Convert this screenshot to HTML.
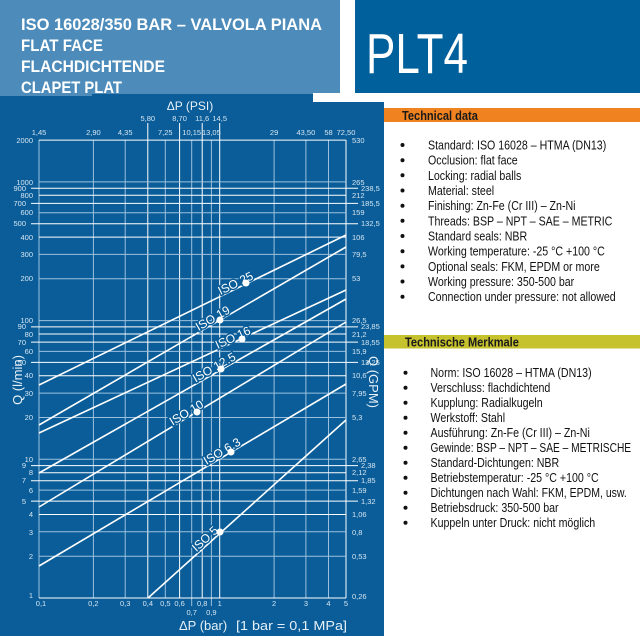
<!DOCTYPE html>
<html><head><meta charset="utf-8"><style>
html,body{margin:0;padding:0;background:#fff;width:640px;height:640px;overflow:hidden}
svg{display:block}
</style></head><body>
<svg width="640" height="640" viewBox="0 0 640 640" xmlns="http://www.w3.org/2000/svg" font-family="Liberation Sans, sans-serif">
<rect width="640" height="640" fill="#fff"/>
<rect x="0" y="0" width="340" height="96" fill="#4d8cba"/>
<rect x="355" y="0" width="285" height="93" fill="#00609c"/>
<g fill="#fff" font-weight="bold" font-size="17">
<text x="21" y="30" textLength="301" lengthAdjust="spacingAndGlyphs">ISO 16028/350 BAR – VALVOLA PIANA</text>
<text x="21" y="51" textLength="82" lengthAdjust="spacingAndGlyphs">FLAT FACE</text>
<text x="21" y="72" textLength="144" lengthAdjust="spacingAndGlyphs">FLACHDICHTENDE</text>
<text x="21" y="93" textLength="101" lengthAdjust="spacingAndGlyphs">CLAPET PLAT</text>
</g>
<text x="366" y="73" fill="#fff" font-size="57" textLength="102" lengthAdjust="spacingAndGlyphs">PLT4</text>
<rect x="0" y="96" width="384" height="540" fill="#0a5d98"/>
<rect x="92" y="94" width="221" height="3" fill="#0a5d98"/>
<rect x="313" y="93" width="71" height="9" fill="#fff"/>
<rect x="0" y="93" width="92" height="3" fill="#4d8cba"/>
<g stroke="#9cc1de" stroke-width="1">
<line x1="39" y1="140" x2="39" y2="598"/>
<line x1="93.4" y1="140" x2="93.4" y2="598"/>
<line x1="125.2" y1="140" x2="125.2" y2="598"/>
<line x1="165.3" y1="140" x2="165.3" y2="598"/>
<line x1="191.7" y1="140" x2="191.7" y2="606"/>
<line x1="211.4" y1="140" x2="211.4" y2="606"/>
<line x1="274.1" y1="140" x2="274.1" y2="598"/>
<line x1="305.9" y1="140" x2="305.9" y2="598"/>
<line x1="328.5" y1="140" x2="328.5" y2="598"/>
</g>
<g stroke="#fff" stroke-width="1">
<line x1="147.8" y1="123" x2="147.8" y2="598"/>
<line x1="179.6" y1="123" x2="179.6" y2="598"/>
<line x1="202.2" y1="123" x2="202.2" y2="598"/>
<line x1="219.7" y1="123" x2="219.7" y2="598"/>
<line x1="346" y1="140" x2="346" y2="598"/>
</g>
<g stroke="#9cc1de" stroke-width="1">
<line x1="39" x2="346" y1="181.9" y2="181.9"/>
<line x1="39" x2="346" y1="212.7" y2="212.7"/>
<line x1="39" x2="346" y1="254.4" y2="254.4"/>
<line x1="39" x2="346" y1="278.8" y2="278.8"/>
<line x1="39" x2="346" y1="320.6" y2="320.6"/>
<line x1="39" x2="346" y1="351.4" y2="351.4"/>
<line x1="39" x2="346" y1="393.1" y2="393.1"/>
<line x1="39" x2="346" y1="417.5" y2="417.5"/>
<line x1="39" x2="346" y1="459.3" y2="459.3"/>
<line x1="39" x2="346" y1="490.1" y2="490.1"/>
<line x1="39" x2="346" y1="531.8" y2="531.8"/>
<line x1="39" x2="346" y1="556.2" y2="556.2"/>
</g>
<g stroke="#fff" stroke-width="1">
<line x1="39" x2="346" y1="140.1" y2="140.1"/>
<line x1="39" x2="346" y1="598" y2="598"/>
<line x1="39" x2="346" y1="195.3" y2="195.3"/>
<line x1="39" x2="346" y1="237.1" y2="237.1"/>
<line x1="39" x2="346" y1="334" y2="334"/>
<line x1="39" x2="346" y1="375.8" y2="375.8"/>
<line x1="39" x2="346" y1="472.7" y2="472.7"/>
<line x1="39" x2="346" y1="514.5" y2="514.5"/>
<line x1="31" x2="358" y1="188.2" y2="188.2"/>
<line x1="31" x2="358" y1="203.4" y2="203.4"/>
<line x1="31" x2="358" y1="223.7" y2="223.7"/>
<line x1="31" x2="358" y1="326.9" y2="326.9"/>
<line x1="31" x2="358" y1="342.1" y2="342.1"/>
<line x1="31" x2="358" y1="362.4" y2="362.4"/>
<line x1="31" x2="358" y1="465.6" y2="465.6"/>
<line x1="31" x2="358" y1="480.8" y2="480.8"/>
<line x1="31" x2="358" y1="501.1" y2="501.1"/>
</g>
<g fill="#d6e6f3" font-size="7.5" text-anchor="end">
<text x="33" y="143">2000</text>
<text x="33" y="185">1000</text>
<text x="26" y="191">900</text>
<text x="33" y="198">800</text>
<text x="26" y="206">700</text>
<text x="33" y="215">600</text>
<text x="26" y="226">500</text>
<text x="33" y="240">400</text>
<text x="33" y="257">300</text>
<text x="33" y="281">200</text>
<text x="33" y="323">100</text>
<text x="26" y="329">90</text>
<text x="33" y="337">80</text>
<text x="26" y="345">70</text>
<text x="33" y="354">60</text>
<text x="26" y="365">50</text>
<text x="33" y="378">40</text>
<text x="33" y="396">30</text>
<text x="33" y="420">20</text>
<text x="33" y="462">10</text>
<text x="26" y="468">9</text>
<text x="33" y="475">8</text>
<text x="26" y="483">7</text>
<text x="33" y="493">6</text>
<text x="26" y="504">5</text>
<text x="33" y="517">4</text>
<text x="33" y="535">3</text>
<text x="33" y="559">2</text>
<text x="33" y="598">1</text>
</g>
<g fill="#d6e6f3" font-size="7.5">
<text x="352" y="143">530</text>
<text x="352" y="185">265</text>
<text x="361" y="191">238,5</text>
<text x="352" y="198">212</text>
<text x="361" y="206">185,5</text>
<text x="352" y="215">159</text>
<text x="361" y="226">132,5</text>
<text x="352" y="240">106</text>
<text x="352" y="257">79,5</text>
<text x="352" y="281">53</text>
<text x="352" y="323">26,5</text>
<text x="361" y="329">23,85</text>
<text x="352" y="337">21,2</text>
<text x="361" y="345">18,55</text>
<text x="352" y="354">15,9</text>
<text x="361" y="365">13,25</text>
<text x="352" y="378">10,6</text>
<text x="352" y="396">7,95</text>
<text x="352" y="420">5,3</text>
<text x="352" y="462">2,65</text>
<text x="361" y="468">2,38</text>
<text x="352" y="475">2,12</text>
<text x="361" y="483">1,85</text>
<text x="352" y="493">1,59</text>
<text x="361" y="504">1,32</text>
<text x="352" y="517">1,06</text>
<text x="352" y="535">0,8</text>
<text x="352" y="559">0,53</text>
<text x="352" y="599">0,26</text>
</g>
<g fill="#d6e6f3" font-size="7.5" text-anchor="middle">
<text x="39" y="135">1,45</text>
<text x="93.4" y="135">2,90</text>
<text x="125.2" y="135">4,35</text>
<text x="165.3" y="135">7,25</text>
<text x="191.7" y="135">10,15</text>
<text x="211.4" y="135">13,05</text>
<text x="274.1" y="135">29</text>
<text x="305.9" y="135">43,50</text>
<text x="328.5" y="135">58</text>
<text x="346" y="135">72,50</text>
<text x="147.8" y="121">5,80</text>
<text x="179.6" y="121">8,70</text>
<text x="202.2" y="121">11,6</text>
<text x="219.7" y="121">14,5</text>
</g>
<text x="190" y="110" fill="#e6f0f8" font-size="12" text-anchor="middle">ΔP (PSI)</text>
<g fill="#d6e6f3" font-size="7.5" text-anchor="middle">
<text x="41" y="606">0,1</text>
<text x="93.4" y="606">0,2</text>
<text x="125.2" y="606">0,3</text>
<text x="147.8" y="606">0,4</text>
<text x="165.3" y="606">0,5</text>
<text x="179.6" y="606">0,6</text>
<text x="202.2" y="606">0,8</text>
<text x="219.7" y="606">1</text>
<text x="274.1" y="606">2</text>
<text x="305.9" y="606">3</text>
<text x="328.5" y="606">4</text>
<text x="346" y="606">5</text>
<text x="191.7" y="615">0,7</text>
<text x="211.4" y="615">0,9</text>
</g>
<text x="179" y="630" fill="#e6f0f8" font-size="13">ΔP (bar)</text>
<text x="236" y="630" fill="#e6f0f8" font-size="13" textLength="111" lengthAdjust="spacingAndGlyphs">[1 bar = 0,1 MPa]</text>
<text transform="translate(22,380) rotate(-90)" fill="#e6f0f8" font-size="13" text-anchor="middle">Q (l/min)</text>
<text transform="translate(369,382) rotate(90)" fill="#e6f0f8" font-size="13" text-anchor="middle">Q (GPM)</text>
<g stroke="#fff" stroke-width="1.6" fill="none">
<line x1="39" y1="385" x2="346" y2="235"/>
<line x1="39" y1="425" x2="346" y2="247"/>
<line x1="39" y1="433" x2="346" y2="290"/>
<line x1="39" y1="473" x2="346" y2="299"/>
<line x1="39" y1="507" x2="346" y2="322"/>
<line x1="39" y1="566" x2="346" y2="384"/>
<line x1="148" y1="598" x2="346" y2="420"/>
</g>
<g fill="#fff" font-size="12" stroke="#0a5d98" stroke-width="3" paint-order="stroke">
<text transform="translate(221,296) rotate(-26) translate(0,-1)">ISO 25</text>
<text transform="translate(199,332) rotate(-30) translate(0,-1)">ISO 19</text>
<text transform="translate(218,350) rotate(-24.8) translate(0,-1)">ISO 16</text>
<text transform="translate(196,383.5) rotate(-29.7) translate(0,-1)">ISO 12.5</text>
<text transform="translate(173,426.6) rotate(-31) translate(0,-1)">ISO 10</text>
<text transform="translate(207,466) rotate(-30.7) translate(0,-1)">ISO 6.3</text>
<text transform="translate(197,553) rotate(-42.5) translate(0,-1)">ISO 5</text>
</g>
<g fill="#fff">
<circle cx="246" cy="283" r="3.5"/>
<circle cx="220" cy="320" r="3.5"/>
<circle cx="242" cy="339" r="3.5"/>
<circle cx="221" cy="369" r="3.5"/>
<circle cx="197" cy="412" r="3.5"/>
<circle cx="231" cy="452" r="3.5"/>
<circle cx="220" cy="532" r="3.5"/>
</g>
<rect x="384" y="108" width="256" height="14" fill="#f08220"/>
<rect x="384" y="335" width="256" height="13.5" fill="#c6c22e"/>
<g fill="#1a1a1a" font-weight="bold" font-size="13">
<text transform="translate(402,120) scale(0.85,1)">Technical data</text>
<text transform="translate(405,346.5) scale(0.85,1)">Technische Merkmale</text>
</g>
<g fill="#111">
<circle cx="402.5" cy="145" r="2"/><circle cx="402.5" cy="160.2" r="2"/><circle cx="402.5" cy="175.3" r="2"/><circle cx="402.5" cy="190.5" r="2"/><circle cx="402.5" cy="205.7" r="2"/><circle cx="402.5" cy="220.8" r="2"/><circle cx="402.5" cy="236" r="2"/><circle cx="402.5" cy="251.2" r="2"/><circle cx="402.5" cy="266.4" r="2"/><circle cx="402.5" cy="281.5" r="2"/><circle cx="402.5" cy="296.7" r="2"/>
<circle cx="405.5" cy="372.7" r="2"/><circle cx="405.5" cy="387.7" r="2"/><circle cx="405.5" cy="402.7" r="2"/><circle cx="405.5" cy="417.7" r="2"/><circle cx="405.5" cy="432.7" r="2"/><circle cx="405.5" cy="447.7" r="2"/><circle cx="405.5" cy="462.7" r="2"/><circle cx="405.5" cy="477.7" r="2"/><circle cx="405.5" cy="492.7" r="2"/><circle cx="405.5" cy="507.7" r="2"/><circle cx="405.5" cy="522.7" r="2"/>
</g>
<g fill="#111" font-size="12.5">
<g transform="translate(428,0) scale(0.85,1)">
<text y="149.5">Standard: ISO 16028 – HTMA (DN13)</text>
<text y="164.7">Occlusion: flat face</text>
<text y="179.8">Locking: radial balls</text>
<text y="195">Material: steel</text>
<text y="210.2">Finishing: Zn-Fe (Cr III) – Zn-Ni</text>
<text y="225.3">Threads: BSP – NPT – SAE – METRIC</text>
<text y="240.5">Standard seals: NBR</text>
<text y="255.7">Working temperature: -25 °C +100 °C</text>
<text y="270.9">Optional seals: FKM, EPDM or more</text>
<text y="286">Working pressure: 350-500 bar</text>
<text y="301.2">Connection under pressure: not allowed</text>
</g>
<g transform="translate(430.5,0) scale(0.85,1)">
<text y="377.2">Norm: ISO 16028 – HTMA (DN13)</text>
<text y="392.2">Verschluss: flachdichtend</text>
<text y="407.2">Kupplung: Radialkugeln</text>
<text y="422.2">Werkstoff: Stahl</text>
<text y="437.2">Ausführung: Zn-Fe (Cr III) – Zn-Ni</text>
<text y="452.2" textLength="236" lengthAdjust="spacingAndGlyphs">Gewinde: BSP – NPT – SAE – METRISCHE</text>
<text y="467.2">Standard-Dichtungen: NBR</text>
<text y="482.2">Betriebstemperatur: -25 °C +100 °C</text>
<text y="497.2" textLength="231" lengthAdjust="spacingAndGlyphs">Dichtungen nach Wahl: FKM, EPDM, usw.</text>
<text y="512.2">Betriebsdruck: 350-500 bar</text>
<text y="527.2">Kuppeln unter Druck: nicht möglich</text>
</g>
</g>
</svg>
</body></html>
